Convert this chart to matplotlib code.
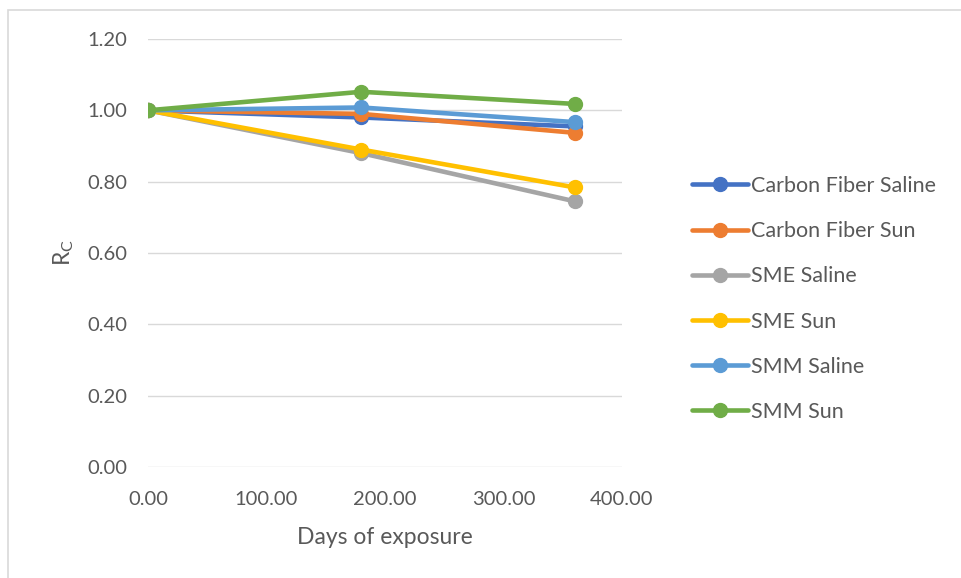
import matplotlib
matplotlib.use("Agg")
import matplotlib.pyplot as plt
from matplotlib.patches import Rectangle

plt.rcParams['font.family'] = ['Lato', 'DejaVu Sans']

days = [0, 180, 360]
series_names = ["Carbon Fiber Saline", "Carbon Fiber Sun", "SME Saline",
                "SME Sun", "SMM Saline", "SMM Sun"]
carbon_fiber_saline = [1.00, 0.98, 0.955]
carbon_fiber_sun = [1.00, 0.99, 0.937]
sme_saline = [1.00, 0.88, 0.745]
sme_sun = [1.00, 0.89, 0.784]
smm_saline = [1.00, 1.008, 0.967]
smm_sun = [1.00, 1.052, 1.018]
colors = ["#4472C4", "#ED7D31", "#A5A5A5", "#FFC000", "#5B9BD5", "#70AD47"]
x_ticks = [0, 100, 200, 300, 400]
y_ticks = [0.0, 0.2, 0.4, 0.6, 0.8, 1.0, 1.2]

W, H = 962, 578
fig = plt.figure(figsize=(W / 100, H / 100), dpi=100)
ax = fig.add_axes([148 / W, 1 - 467 / H, (622 - 148) / W, (467 - 39) / H])

all_series = [carbon_fiber_saline, carbon_fiber_sun, sme_saline, sme_sun,
              smm_saline, smm_sun]
for name, vals, c in zip(series_names, all_series, colors):
    ax.plot(days, vals, color=c, lw=3.3, marker='o', markersize=10,
            label=name, solid_capstyle='round')

ax.set_xlim(0, 400)
ax.set_ylim(0, 1.2)
ax.set_xticks(x_ticks)
ax.set_yticks(y_ticks)
ax.set_xticklabels([f"{v:.2f}" for v in x_ticks])
ax.set_yticklabels([f"{v:.2f}" for v in y_ticks])
ax.grid(axis='y', color='#D9D9D9', lw=1)
ax.set_axisbelow(True)
for s in ax.spines.values():
    s.set_visible(False)
ax.tick_params(length=0, labelsize=14.5, colors='#595959')
ax.tick_params(axis='y', pad=15)
ax.tick_params(axis='x', pad=17)
ax.set_xlabel("Days of exposure", fontsize=16.5, color='#595959', labelpad=14)
ax.set_ylabel("R$_\\mathregular{C}$", fontsize=16.5, color='#595959', labelpad=8)

leg = ax.legend(loc='upper left', bbox_to_anchor=(692 / W, 1 - 176 / H),
                bbox_transform=fig.transFigure, frameon=False, fontsize=15.5,
                handlelength=2.6, handletextpad=0.15, labelspacing=1.17,
                borderaxespad=0, borderpad=0)
for t in leg.get_texts():
    t.set_color('#595959')

fig.patches.append(Rectangle((8 / W, -0.1), 1.2, 1 - 10 / H + 0.1,
                             transform=fig.transFigure, fill=False,
                             edgecolor='#D9D9D9', lw=1.2))

fig.savefig("out.png", dpi=100)
